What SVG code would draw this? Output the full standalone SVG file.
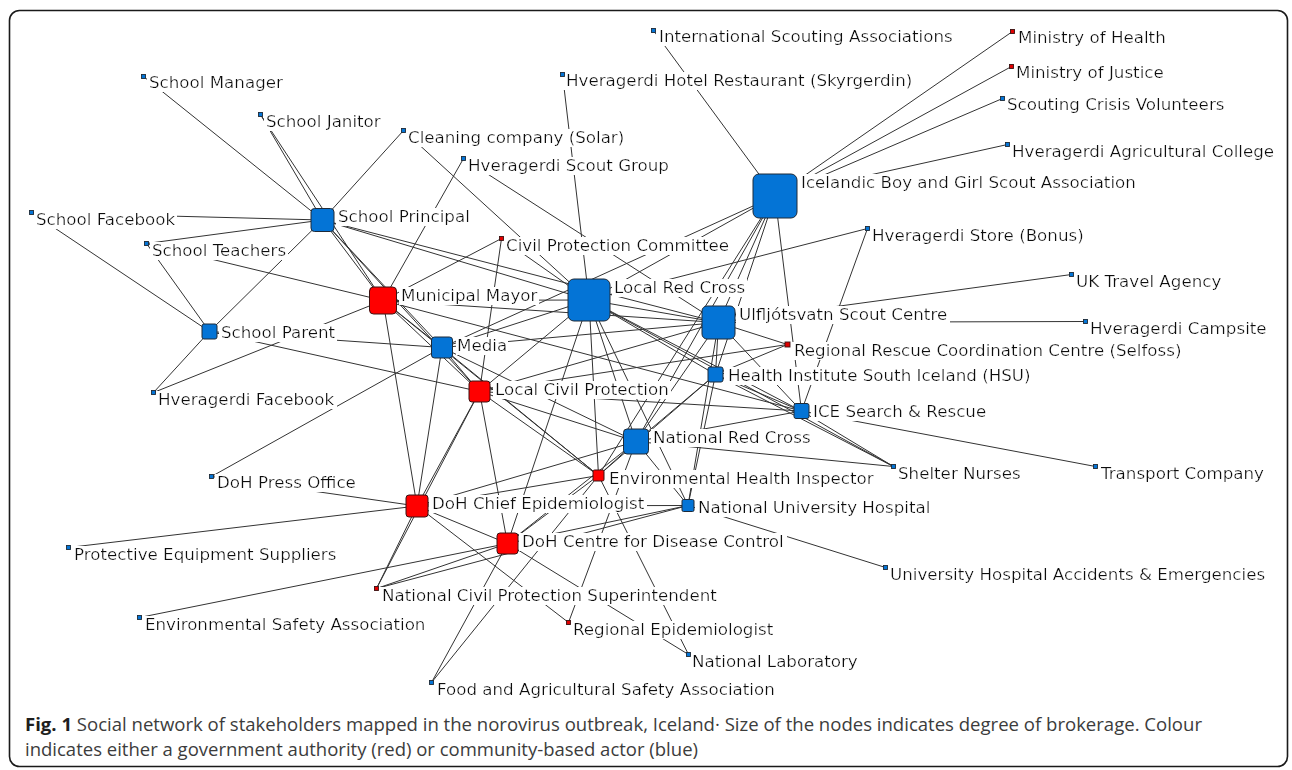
<svg xmlns="http://www.w3.org/2000/svg" width="1292" height="770" viewBox="0 0 1292 770">
<defs>
<filter id="bg" x="-0.01" y="0.13" width="1.02" height="0.86"><feFlood flood-color="#ffffff"/><feComposite in="SourceGraphic" operator="over"/></filter>
<style>
.e line{stroke:#333;stroke-width:1;fill:none}
.nb{fill:#0474d6;stroke:#1e2a38;stroke-width:1}
.nr{fill:#ff0000;stroke:#3a1212;stroke-width:1}
.sb{fill:#0474d6;stroke:#1e2a38;stroke-width:0.9}
.sr{fill:#e00000;stroke:#3a1212;stroke-width:0.9}
.lbl{font-family:"DejaVu Sans",Verdana,sans-serif;font-size:16.7px;fill:#0d0d0d;filter:url(#bg)}
.cap{font-family:"Open Sans","Liberation Sans",sans-serif;font-size:18.5px;fill:#3c3c3c}
</style>
</defs>
<rect width="1292" height="770" fill="#fff"/>
<rect x="9.5" y="10.5" width="1278" height="756" rx="10" fill="none" stroke="#1a1a1a" stroke-width="1.6"/>

<g id="connectors" class="e">
<line x1="143.5" y1="76.5" x2="322.5" y2="220"/>
<line x1="260.5" y1="114.5" x2="322.5" y2="220"/>
<line x1="260.5" y1="114.5" x2="383" y2="300.5"/>
<line x1="403.5" y1="130.5" x2="322.5" y2="220"/>
<line x1="403.5" y1="130.5" x2="589" y2="300"/>
<line x1="31.5" y1="212.5" x2="322.5" y2="220"/>
<line x1="31.5" y1="212.5" x2="209.5" y2="331.5"/>
<line x1="146.5" y1="243.5" x2="322.5" y2="220"/>
<line x1="146.5" y1="243.5" x2="209.5" y2="331.5"/>
<line x1="146.5" y1="243.5" x2="383" y2="300.5"/>
<line x1="209.5" y1="331.5" x2="322.5" y2="220"/>
<line x1="153.5" y1="392.5" x2="209.5" y2="331.5"/>
<line x1="153.5" y1="392.5" x2="383" y2="300.5"/>
<line x1="209.5" y1="331.5" x2="442" y2="347.5"/>
<line x1="209.5" y1="331.5" x2="479.5" y2="391.5"/>
<line x1="211.5" y1="476.5" x2="442" y2="347.5"/>
<line x1="211.5" y1="476.5" x2="417" y2="506"/>
<line x1="68.5" y1="547.5" x2="417" y2="506"/>
<line x1="139.5" y1="617.5" x2="507.5" y2="543.5"/>
<line x1="376.5" y1="588.5" x2="417" y2="506"/>
<line x1="376.5" y1="588.5" x2="507.5" y2="543.5"/>
<line x1="376.5" y1="588.5" x2="688" y2="505.5"/>
<line x1="479.5" y1="391.5" x2="376.5" y2="588.5"/>
<line x1="431.5" y1="682.5" x2="507.5" y2="543.5"/>
<line x1="431.5" y1="682.5" x2="598.5" y2="475.5"/>
<line x1="417" y1="506" x2="568.5" y2="622.5"/>
<line x1="636" y1="441.5" x2="568.5" y2="622.5"/>
<line x1="507.5" y1="543.5" x2="688.5" y2="654.5"/>
<line x1="598.5" y1="475.5" x2="688.5" y2="654.5"/>
<line x1="688" y1="505.5" x2="885.5" y2="567.5"/>
<line x1="801.5" y1="411" x2="1095.5" y2="466.5"/>
<line x1="801.5" y1="411" x2="893.5" y2="466.5"/>
<line x1="715.5" y1="374.5" x2="893.5" y2="466.5"/>
<line x1="636" y1="441.5" x2="893.5" y2="466.5"/>
<line x1="653.5" y1="30.5" x2="775" y2="196"/>
<line x1="562.5" y1="74.5" x2="589" y2="300"/>
<line x1="1012.5" y1="31.5" x2="775" y2="196"/>
<line x1="1011.5" y1="66.5" x2="775" y2="196"/>
<line x1="1002.5" y1="98.5" x2="775" y2="196"/>
<line x1="1007.5" y1="144.5" x2="775" y2="196"/>
<line x1="867.5" y1="228.5" x2="589" y2="300"/>
<line x1="867.5" y1="228.5" x2="801.5" y2="411"/>
<line x1="1071.5" y1="274.5" x2="718.5" y2="322.5"/>
<line x1="1085.5" y1="321.5" x2="718.5" y2="322.5"/>
<line x1="463.5" y1="158.5" x2="383" y2="300.5"/>
<line x1="463.5" y1="158.5" x2="718.5" y2="322.5"/>
<line x1="501.5" y1="238.5" x2="383" y2="300.5"/>
<line x1="501.5" y1="238.5" x2="479.5" y2="391.5"/>
<line x1="501.5" y1="238.5" x2="589" y2="300"/>
<line x1="787.5" y1="344.5" x2="718.5" y2="322.5"/>
<line x1="787.5" y1="344.5" x2="479.5" y2="391.5"/>
<line x1="787.5" y1="344.5" x2="715.5" y2="374.5"/>
<line x1="322.5" y1="220" x2="383" y2="300.5"/>
<line x1="322.5" y1="220" x2="589" y2="300"/>
<line x1="322.5" y1="220" x2="479.5" y2="391.5"/>
<line x1="322.5" y1="220" x2="442" y2="347.5"/>
<line x1="322.5" y1="220" x2="718.5" y2="322.5"/>
<line x1="383" y1="300.5" x2="442" y2="347.5"/>
<line x1="383" y1="300.5" x2="479.5" y2="391.5"/>
<line x1="383" y1="300.5" x2="417" y2="506"/>
<line x1="383" y1="300.5" x2="589" y2="300"/>
<line x1="383" y1="300.5" x2="718.5" y2="322.5"/>
<line x1="383" y1="300.5" x2="801.5" y2="411"/>
<line x1="383" y1="300.5" x2="598.5" y2="475.5"/>
<line x1="442" y1="347.5" x2="479.5" y2="391.5"/>
<line x1="442" y1="347.5" x2="417" y2="506"/>
<line x1="442" y1="347.5" x2="589" y2="300"/>
<line x1="442" y1="347.5" x2="718.5" y2="322.5"/>
<line x1="442" y1="347.5" x2="775" y2="196"/>
<line x1="442" y1="347.5" x2="636" y2="441.5"/>
<line x1="442" y1="347.5" x2="598.5" y2="475.5"/>
<line x1="479.5" y1="391.5" x2="636" y2="441.5"/>
<line x1="479.5" y1="391.5" x2="598.5" y2="475.5"/>
<line x1="479.5" y1="391.5" x2="801.5" y2="411"/>
<line x1="479.5" y1="391.5" x2="417" y2="506"/>
<line x1="479.5" y1="391.5" x2="507.5" y2="543.5"/>
<line x1="479.5" y1="391.5" x2="589" y2="300"/>
<line x1="479.5" y1="391.5" x2="718.5" y2="322.5"/>
<line x1="589" y1="300" x2="718.5" y2="322.5"/>
<line x1="589" y1="300" x2="775" y2="196"/>
<line x1="589" y1="300" x2="715.5" y2="374.5"/>
<line x1="589" y1="300" x2="801.5" y2="411"/>
<line x1="589" y1="300" x2="893.5" y2="466.5"/>
<line x1="589" y1="300" x2="598.5" y2="475.5"/>
<line x1="589" y1="300" x2="507.5" y2="543.5"/>
<line x1="589" y1="300" x2="688" y2="505.5"/>
<line x1="589" y1="300" x2="636" y2="441.5"/>
<line x1="775" y1="196" x2="718.5" y2="322.5"/>
<line x1="775" y1="196" x2="715.5" y2="374.5"/>
<line x1="775" y1="196" x2="636" y2="441.5"/>
<line x1="775" y1="196" x2="598.5" y2="475.5"/>
<line x1="775" y1="196" x2="801.5" y2="411"/>
<line x1="718.5" y1="322.5" x2="715.5" y2="374.5"/>
<line x1="718.5" y1="322.5" x2="636" y2="441.5"/>
<line x1="718.5" y1="322.5" x2="801.5" y2="411"/>
<line x1="718.5" y1="322.5" x2="688" y2="505.5"/>
<line x1="715.5" y1="374.5" x2="801.5" y2="411"/>
<line x1="715.5" y1="374.5" x2="636" y2="441.5"/>
<line x1="715.5" y1="374.5" x2="598.5" y2="475.5"/>
<line x1="715.5" y1="374.5" x2="688" y2="505.5"/>
<line x1="636" y1="441.5" x2="801.5" y2="411"/>
<line x1="636" y1="441.5" x2="598.5" y2="475.5"/>
<line x1="636" y1="441.5" x2="688" y2="505.5"/>
<line x1="636" y1="441.5" x2="417" y2="506"/>
<line x1="636" y1="441.5" x2="507.5" y2="543.5"/>
<line x1="598.5" y1="475.5" x2="417" y2="506"/>
<line x1="598.5" y1="475.5" x2="507.5" y2="543.5"/>
<line x1="417" y1="506" x2="507.5" y2="543.5"/>
<line x1="417" y1="506" x2="688" y2="505.5"/>
<line x1="507.5" y1="543.5" x2="688" y2="505.5"/>
</g>

<!-- peripheral actors (small markers) -->
<g id="n-international-scouting"><text class="lbl" x="659" y="42">International Scouting Associations</text><rect class="sb" x="651.5" y="28.5" width="4" height="4"/></g>
<g id="n-hotel-restaurant"><text class="lbl" x="566" y="86">Hveragerdi Hotel Restaurant (Skyrgerdin)</text><rect class="sb" x="560.5" y="72.5" width="4" height="4"/></g>
<g id="n-ministry-health"><text class="lbl" x="1018" y="43">Ministry of Health</text><rect class="sr" x="1010.5" y="29.5" width="4" height="4"/></g>
<g id="n-ministry-justice"><text class="lbl" x="1016" y="78">Ministry of Justice</text><rect class="sr" x="1009.5" y="64.5" width="4" height="4"/></g>
<g id="n-scouting-volunteers"><text class="lbl" x="1007" y="110">Scouting Crisis Volunteers</text><rect class="sb" x="1000.5" y="96.5" width="4" height="4"/></g>
<g id="n-agricultural-college"><text class="lbl" x="1012" y="157">Hveragerdi Agricultural College</text><rect class="sb" x="1005.5" y="142.5" width="4" height="4"/></g>
<g id="n-store-bonus"><text class="lbl" x="872" y="240.5">Hveragerdi Store (Bonus)</text><rect class="sb" x="865.5" y="226.5" width="4" height="4"/></g>
<g id="n-uk-travel"><text class="lbl" x="1076" y="286.5">UK Travel Agency</text><rect class="sb" x="1069.5" y="272.5" width="4" height="4"/></g>
<g id="n-campsite"><text class="lbl" x="1090" y="333.5">Hveragerdi Campsite</text><rect class="sb" x="1083.5" y="319.5" width="4" height="4"/></g>
<g id="n-regional-rescue"><text class="lbl" x="794" y="355.5">Regional Rescue Coordination Centre (Selfoss)</text><rect class="sr" x="785" y="342" width="5" height="5"/></g>
<g id="n-shelter-nurses"><text class="lbl" x="898" y="478.5">Shelter Nurses</text><rect class="sb" x="891.5" y="464.5" width="4" height="4"/></g>
<g id="n-transport"><text class="lbl" x="1101" y="478.5">Transport Company</text><rect class="sb" x="1093.5" y="464.5" width="4" height="4"/></g>
<g id="n-uhae"><text class="lbl" x="890" y="579.5">University Hospital Accidents &amp; Emergencies</text><rect class="sb" x="883.5" y="565.5" width="4" height="4"/></g>
<g id="n-national-lab"><text class="lbl" x="692" y="666.5">National Laboratory</text><rect class="sb" x="686.5" y="652.5" width="4" height="4"/></g>
<g id="n-regional-epi"><text class="lbl" x="573" y="634.5">Regional Epidemiologist</text><rect class="sr" x="566.5" y="620.5" width="4" height="4"/></g>
<g id="n-food-agri"><text class="lbl" x="437" y="694.5">Food and Agricultural Safety Association</text><rect class="sb" x="429.5" y="680.5" width="4" height="4"/></g>
<g id="n-ncps"><text class="lbl" x="382" y="600.5">National Civil Protection Superintendent</text><rect class="sr" x="374.5" y="586.5" width="4" height="4"/></g>
<g id="n-env-safety"><text class="lbl" x="145" y="630">Environmental Safety Association</text><rect class="sb" x="137.5" y="615.5" width="4" height="4"/></g>
<g id="n-protective"><text class="lbl" x="74" y="559.5">Protective Equipment Suppliers</text><rect class="sb" x="66.5" y="545.5" width="4" height="4"/></g>
<g id="n-press-office"><text class="lbl" x="217" y="488">DoH Press Office</text><rect class="sb" x="209.5" y="474.5" width="4" height="4"/></g>
<g id="n-hv-facebook"><text class="lbl" x="158" y="404.5">Hveragerdi Facebook</text><rect class="sb" x="151.5" y="390.5" width="4" height="4"/></g>
<g id="n-teachers"><text class="lbl" x="152" y="256">School Teachers</text><rect class="sb" x="144.5" y="241.5" width="4" height="4"/></g>
<g id="n-school-facebook"><text class="lbl" x="36" y="225">School Facebook</text><rect class="sb" x="29.5" y="210.5" width="4" height="4"/></g>
<g id="n-school-manager"><text class="lbl" x="149" y="88">School Manager</text><rect class="sb" x="141.5" y="74.5" width="4" height="4"/></g>
<g id="n-janitor"><text class="lbl" x="266" y="127">School Janitor</text><rect class="sb" x="258.5" y="112.5" width="4" height="4"/></g>
<g id="n-cleaning"><text class="lbl" x="408" y="143">Cleaning company (Solar)</text><rect class="sb" x="401.5" y="128.5" width="4" height="4"/></g>
<g id="n-scout-group"><text class="lbl" x="468" y="170.5">Hveragerdi Scout Group</text><rect class="sb" x="461.5" y="156.5" width="4" height="4"/></g>
<g id="n-cpc"><text class="lbl" x="506" y="250.5">Civil Protection Committee</text><rect class="sr" x="499.5" y="236.5" width="4" height="4"/></g>

<!-- brokers (sized markers) -->
<g id="n-ibgs"><text class="lbl" x="801" y="187.5">Icelandic Boy and Girl Scout Association</text><rect class="nb" x="753" y="174" width="44" height="44" rx="6"/></g>
<g id="n-local-red-cross"><text class="lbl" x="614" y="292.5">Local Red Cross</text><rect class="nb" x="568" y="279" width="42" height="42" rx="6"/></g>
<g id="n-ulfljotsvatn"><text class="lbl" x="739" y="319.5">Ulfljótsvatn Scout Centre</text><rect class="nb" x="702" y="306" width="33" height="33" rx="5"/></g>
<g id="n-school-principal"><text class="lbl" x="338" y="222">School Principal</text><rect class="nb" x="311" y="208.5" width="23" height="23" rx="3.5"/></g>
<g id="n-mayor"><text class="lbl" x="401" y="300.5">Municipal Mayor</text><rect class="nr" x="369.5" y="287" width="27" height="27" rx="4"/></g>
<g id="n-school-parent"><text class="lbl" x="221" y="337.5">School Parent</text><rect class="nb" x="202" y="324" width="15" height="15" rx="2"/></g>
<g id="n-media"><text class="lbl" x="457" y="350.5">Media</text><rect class="nb" x="431.5" y="337" width="21" height="21" rx="3"/></g>
<g id="n-local-civil"><text class="lbl" x="495" y="394.5">Local Civil Protection</text><rect class="nr" x="469" y="381" width="21" height="21" rx="3"/></g>
<g id="n-hsu"><text class="lbl" x="728" y="380.5">Health Institute South Iceland (HSU)</text><rect class="nb" x="708" y="367" width="15" height="15" rx="2"/></g>
<g id="n-ice-sar"><text class="lbl" x="813" y="417">ICE Search &amp; Rescue</text><rect class="nb" x="794" y="403.5" width="15" height="15" rx="2"/></g>
<g id="n-national-red-cross"><text class="lbl" x="653" y="442.5">National Red Cross</text><rect class="nb" x="623.5" y="429" width="25" height="25" rx="3.5"/></g>
<g id="n-env-health"><text class="lbl" x="609" y="483.5">Environmental Health Inspector</text><rect class="nr" x="593" y="470" width="11" height="11" rx="1.5"/></g>
<g id="n-nuh"><text class="lbl" x="698" y="513">National University Hospital</text><rect class="nb" x="682" y="499.5" width="12" height="12" rx="1.5"/></g>
<g id="n-chief-epi"><text class="lbl" x="432" y="508.5">DoH Chief Epidemiologist</text><rect class="nr" x="406" y="495" width="22" height="22" rx="3"/></g>
<g id="n-cdc"><text class="lbl" x="522" y="546.5">DoH Centre for Disease Control</text><rect class="nr" x="497" y="533" width="21" height="21" rx="3"/></g>

<g id="caption">
<text class="cap" x="25" y="731" textLength="1177" lengthAdjust="spacingAndGlyphs"><tspan font-weight="bold" fill="#1e1e1e">Fig. 1</tspan> Social network of stakeholders mapped in the norovirus outbreak, Iceland· Size of the nodes indicates degree of brokerage. Colour</text>
<text class="cap" x="25" y="756" textLength="673" lengthAdjust="spacingAndGlyphs">indicates either a government authority (red) or community-based actor (blue)</text>
</g>
</svg>
